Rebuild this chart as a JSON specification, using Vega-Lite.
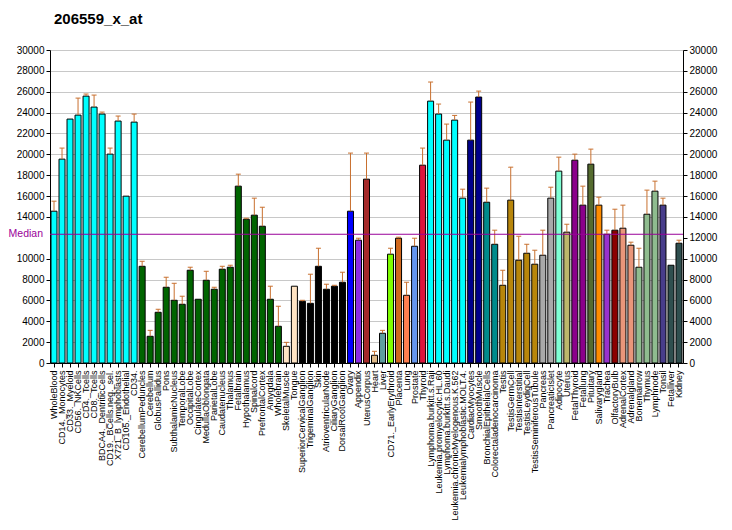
{
  "$schema": "https://vega.github.io/schema/vega-lite/v6.json",
  "width": 633,
  "height": 313,
  "autosize": "none",
  "padding": {"left": 50, "top": 50, "right": 49, "bottom": 167},
  "background": "white",
  "title": {"text": "206559_x_at", "anchor": "start", "frame": "group", "fontSize": 15, "fontWeight": "bold", "font": "Liberation Sans", "offset": 18, "dx": 4, "color": "black"},
  "config": {
    "view": {"stroke": null},
    "font": "Liberation Sans",
    "axis": {"labelFont": "Liberation Sans", "labelColor": "black", "domainColor": "black", "tickColor": "black", "titleFont": "Liberation Sans"}
  },
  "datasets": {
    "expr": [
    {"name": "WholeBlood", "value": 14550, "err": 15510, "group": "blood"},
    {"name": "CD14._Monocytes", "value": 19540, "err": 20600, "group": "blood"},
    {"name": "CD33._Myeloid", "value": 23380, "err": null, "group": "blood"},
    {"name": "CD56._NKCells", "value": 23760, "err": 25390, "group": "blood"},
    {"name": "CD4._Tcells", "value": 25580, "err": 25780, "group": "blood"},
    {"name": "CD8._Tcells", "value": 24530, "err": 25680, "group": "blood"},
    {"name": "BDCA4._DentriticCells", "value": 23860, "err": 24050, "group": "blood"},
    {"name": "CD19._BCells.neg._sel.", "value": 20020, "err": 20600, "group": "blood"},
    {"name": "X721_B_lymphoblasts", "value": 23190, "err": 23670, "group": "blood"},
    {"name": "CD105._Endothelial", "value": 15990, "err": null, "group": "blood"},
    {"name": "CD34.", "value": 23090, "err": 23860, "group": "blood"},
    {"name": "CerebellumPeduncles", "value": 9270, "err": 9750, "group": "brain"},
    {"name": "Cerebellum", "value": 2560, "err": 3130, "group": "brain"},
    {"name": "GlobusPallidus", "value": 4860, "err": 5150, "group": "brain"},
    {"name": "Pons", "value": 7260, "err": 8220, "group": "brain"},
    {"name": "SubthalamicNucleus", "value": 6010, "err": 7640, "group": "brain"},
    {"name": "TemporalLobe", "value": 5630, "err": 6400, "group": "brain"},
    {"name": "OccipitalLobe", "value": 8890, "err": 9180, "group": "brain"},
    {"name": "CingulateCortex", "value": 6110, "err": null, "group": "brain"},
    {"name": "MedullaOblongata", "value": 7930, "err": 8790, "group": "brain"},
    {"name": "ParietalLobe", "value": 7070, "err": 7260, "group": "brain"},
    {"name": "Caudatenucleus", "value": 8990, "err": 9270, "group": "brain"},
    {"name": "Thalamus", "value": 9180, "err": 9370, "group": "brain"},
    {"name": "Fetalbrain", "value": 16950, "err": 18100, "group": "brain"},
    {"name": "Hypothalamus", "value": 13780, "err": 13880, "group": "brain"},
    {"name": "Spinalcord", "value": 14170, "err": 15800, "group": "brain"},
    {"name": "PrefrontalCortex", "value": 13110, "err": 14930, "group": "brain"},
    {"name": "Amygdala", "value": 6110, "err": 7360, "group": "brain"},
    {"name": "Wholebrain", "value": 3520, "err": 5440, "group": "brain"},
    {"name": "SkeletalMuscle", "value": 1600, "err": 1980, "group": "muscle"},
    {"name": "Tongue", "value": 7360, "err": null, "group": "muscle"},
    {"name": "SuperiorCervicalGanglion", "value": 5920, "err": 6010, "group": "ganglion"},
    {"name": "TrigeminalGanglion", "value": 5720, "err": 8510, "group": "ganglion"},
    {"name": "Skin", "value": 9270, "err": 11000, "group": "ganglion"},
    {"name": "AtrioventricularNode", "value": 7070, "err": 7550, "group": "ganglion"},
    {"name": "CiliaryGanglion", "value": 7360, "err": 7450, "group": "ganglion"},
    {"name": "DorsalRootGanglion", "value": 7740, "err": 8700, "group": "ganglion"},
    {"name": "Ovary", "value": 14550, "err": 20120, "group": "ovary"},
    {"name": "Appendix", "value": 11770, "err": 11960, "group": "appendix"},
    {"name": "UterusCorpus", "value": 17620, "err": 20120, "group": "uteruscorpus"},
    {"name": "Heart", "value": 740, "err": 1120, "group": "heart"},
    {"name": "Liver", "value": 2850, "err": 3130, "group": "liver"},
    {"name": "CD71._EarlyErythroid", "value": 10430, "err": 11000, "group": "erythroid"},
    {"name": "Placenta", "value": 11960, "err": 12060, "group": "placenta"},
    {"name": "Lung", "value": 6490, "err": 7740, "group": "lung"},
    {"name": "Prostate", "value": 11190, "err": 11960, "group": "prostate"},
    {"name": "Thyroid", "value": 18960, "err": 20600, "group": "thyroid"},
    {"name": "Lymphoma.burkitt.s.Raji", "value": 25100, "err": 26930, "group": "blood"},
    {"name": "Leukemia.promyelocytic.HL.60", "value": 23860, "err": 24820, "group": "blood"},
    {"name": "Lymphoma.burkitt.s.Daudi", "value": 21360, "err": 22900, "group": "blood"},
    {"name": "Leukemia.chronicMyelogenous.K.562", "value": 23280, "err": 23730, "group": "blood"},
    {"name": "Leukemialymphoblastic.MOLT.4.", "value": 15800, "err": 16660, "group": "blood"},
    {"name": "CardiacMyocytes", "value": 21360, "err": 25010, "group": "cardiac"},
    {"name": "SmoothMuscle", "value": 25490, "err": 26060, "group": "cardiac"},
    {"name": "BronchialEpithelialCells", "value": 15410, "err": 16760, "group": "epithelial"},
    {"name": "Colorectaladenocarcinoma", "value": 11380, "err": 12730, "group": "epithelial"},
    {"name": "Testis", "value": 7450, "err": 8890, "group": "testis"},
    {"name": "TestisGermCell", "value": 15610, "err": 18770, "group": "testis"},
    {"name": "TestisInterstitial", "value": 9850, "err": 12150, "group": "testis"},
    {"name": "TestisLeydigCell", "value": 10520, "err": 11380, "group": "testis"},
    {"name": "TestisSeminiferousTubule", "value": 9470, "err": 10810, "group": "testis"},
    {"name": "Pancreas", "value": 10330, "err": 12730, "group": "pancreas"},
    {"name": "PancreaticIslet", "value": 15800, "err": 16850, "group": "pancreas"},
    {"name": "Adipocyte", "value": 18390, "err": 19730, "group": "adipocyte"},
    {"name": "Uterus", "value": 12540, "err": 13300, "group": "uterus"},
    {"name": "FetalThyroid", "value": 19440, "err": 20020, "group": "fetal"},
    {"name": "Fetallung", "value": 15130, "err": 16950, "group": "fetal"},
    {"name": "Pituitary", "value": 19060, "err": 20500, "group": "pituitary"},
    {"name": "Salivarygland", "value": 15130, "err": 15890, "group": "salivary"},
    {"name": "Trachea", "value": 12340, "err": 12730, "group": "trachea"},
    {"name": "OlfactoryBulb", "value": 12730, "err": 14740, "group": "olfactory"},
    {"name": "AdrenalCortex", "value": 12920, "err": 15130, "group": "adrenal"},
    {"name": "Adrenalgland", "value": 11290, "err": 11580, "group": "adrenal"},
    {"name": "Bonemarrow", "value": 9180, "err": 11000, "group": "lymphoid"},
    {"name": "Thymus", "value": 14260, "err": 16570, "group": "lymphoid"},
    {"name": "Lymphnode", "value": 16470, "err": 17430, "group": "lymphoid"},
    {"name": "Tonsil", "value": 15130, "err": 15800, "group": "tonsil"},
    {"name": "Fetalliver", "value": 9370, "err": null, "group": "kidney"},
    {"name": "Kidney", "value": 11480, "err": 11770, "group": "kidney"}
    ],
    "median": [{"name": "WholeBlood", "median": 12340, "label": "Median"}]
  },
  "data": {"name": "expr"},
  "resolve": {"axis": {"y": "independent"}},
  "layer": [
    {
      "mark": {"type": "bar", "stroke": "black", "strokeWidth": 1},
      "encoding": {
        "x": {"field": "name", "type": "nominal", "sort": null,
              "scale": {"paddingInner": 0.25, "paddingOuter": 0.125},
              "axis": {"title": null, "labelAngle": -90, "labelAlign": "right", "labelBaseline": "middle", "labelFontSize": 9, "labelPadding": 3, "tickSize": 4, "labelLimit": 0, "ticks": true, "domain": true}},
        "y": {"field": "value", "type": "quantitative",
              "scale": {"domain": [0, 30000], "nice": false},
              "axis": {"title": null, "orient": "left", "values": [0,2000,4000,6000,8000,10000,14000,16000,18000,20000,22000,24000,26000,28000,30000], "grid": true, "gridColor": "#C8C8C8", "gridWidth": 1, "labelFontSize": 10, "tickSize": 4, "format": "d"}},
        "color": {"field": "group", "type": "nominal", "legend": null,
          "scale": {
            "domain": ["blood","brain","muscle","ganglion","ovary","appendix","uteruscorpus","heart","liver","erythroid","placenta","lung","prostate","thyroid","cardiac","epithelial","testis","pancreas","adipocyte","uterus","fetal","pituitary","salivary","trachea","olfactory","adrenal","lymphoid","tonsil","kidney"],
            "range": ["#00FFFF","#006400","#FFE4C4","#000000","#0000FF","#8A2BE2","#A52A2A","#DEB887","#5F9EA0","#7FFF00","#D2691E","#FF7F50","#6495ED","#DC143C","#00008B","#008B8B","#B8860B","#A9A9A9","#7FFFD4","#BDB76B","#8B008B","#556B2F","#FF8C00","#9932CC","#8B0000","#E9967A","#8FBC8F","#483D8B","#2F4F4F"]
          }}
      }
    },
    {
      "transform": [{"filter": "datum.err != null"}],
      "mark": {"type": "rule", "color": "#C8702F", "strokeWidth": 1},
      "encoding": {
        "x": {"field": "name", "type": "nominal", "sort": null},
        "y": {"field": "value", "type": "quantitative", "axis": null},
        "y2": {"field": "err"}
      }
    },
    {
      "transform": [{"filter": "datum.err != null"}],
      "mark": {"type": "tick", "color": "#C8702F", "thickness": 1, "size": 5, "opacity": 1},
      "encoding": {
        "x": {"field": "name", "type": "nominal", "sort": null},
        "y": {"field": "err", "type": "quantitative",
              "axis": {"title": null, "orient": "right", "values": [0,2000,4000,6000,8000,10000,12000,14000,16000,18000,20000,22000,24000,26000,28000,30000], "grid": false, "labelFontSize": 10, "tickSize": 4, "format": "d"}}
      }
    },
    {
      "data": {"name": "median"},
      "mark": {"type": "rule", "color": "#990099", "strokeWidth": 1},
      "encoding": {
        "y": {"field": "median", "type": "quantitative", "axis": null}
      }
    },
    {
      "data": {"name": "median"},
      "mark": {"type": "text", "color": "#990099", "align": "right", "baseline": "middle", "fontSize": 10.5, "dx": -11, "font": "Liberation Sans"},
      "encoding": {
        "x": {"field": "name", "type": "nominal", "sort": null},
        "y": {"field": "median", "type": "quantitative", "axis": null},
        "text": {"field": "label"}
      }
    }
  ]
}
